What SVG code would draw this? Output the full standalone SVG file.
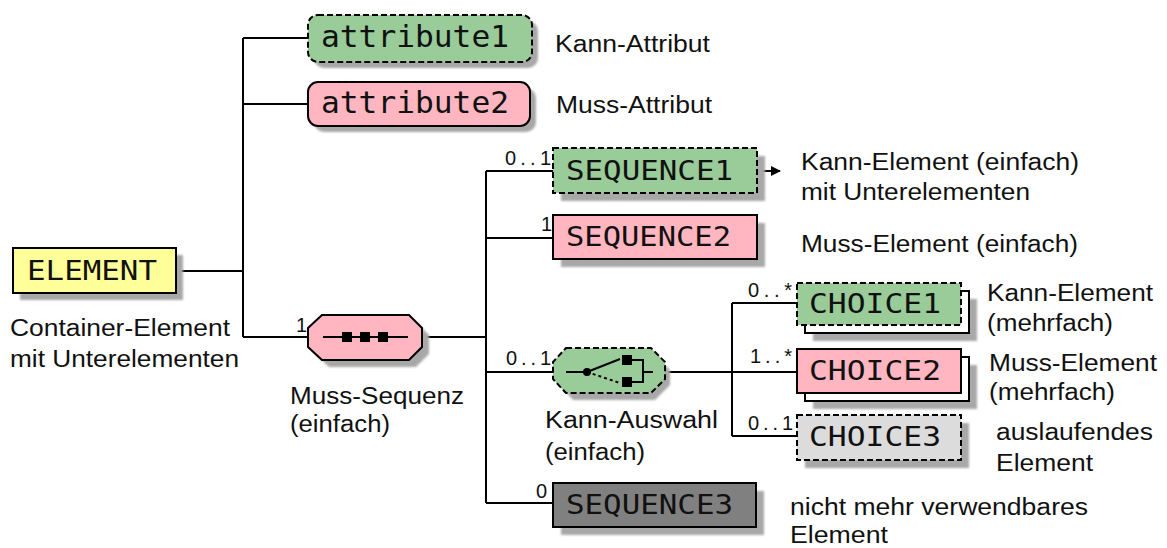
<svg xmlns="http://www.w3.org/2000/svg" width="1167" height="548" viewBox="0 0 1167 548">
<defs>
<style>
.bg{fill:#ffffff}
.ln{stroke:#000;stroke-width:2;fill:none}
.box{stroke:#000;stroke-width:2}
.dash{stroke-dasharray:6,3}
.opt{fill:#99cc99}
.req{fill:#ffb6c1}
.ele{fill:#ffff99}
.dep{fill:#dcdcdc}
.gone{fill:#808080}
.white{fill:#ffffff}
.sh{fill:#a8a8a8;filter:url(#blur)}
.nt{font-family:"DejaVu Sans Mono","Liberation Mono",monospace;font-size:27px;fill:#111}
.at{font-family:"DejaVu Sans Mono","Liberation Mono",monospace;font-size:30px;fill:#111}
.card{font-family:"Liberation Sans",Arial,sans-serif;font-size:20px;fill:#111}
.lbl{font-family:"Liberation Sans",Arial,sans-serif;font-size:23px;fill:#111}
</style>
<filter id="blur" x="-10%" y="-10%" width="120%" height="120%"><feGaussianBlur stdDeviation="1"/></filter>
<marker id="arr" markerWidth="10" markerHeight="10" refX="9" refY="5" orient="auto" markerUnits="userSpaceOnUse"><path d="M0,0 L10,5 L0,10 Z" fill="#000"/></marker>
</defs>
<rect class="bg" x="0" y="0" width="1167" height="548"/>

<g id="connectors">
<path class="ln" d="M176,271 H243"/>
<path class="ln" d="M243,38 V337"/>
<path class="ln" d="M243,38 H308"/>
<path class="ln" d="M243,104 H308"/>
<path class="ln" d="M243,337 H308"/>
<path class="ln" d="M422,337 H486"/>
<path class="ln" d="M486,171 V503"/>
<path class="ln" d="M486,171 H553"/>
<path class="ln" d="M486,238 H553"/>
<path class="ln" d="M486,372 H553"/>
<path class="ln" d="M486,503 H553"/>
<path class="ln" d="M665,372 H797"/>
<path class="ln" d="M732,303 V436"/>
<path class="ln" d="M732,303 H797"/>
<path class="ln" d="M732,436 H797"/>
<path class="ln" d="M757,171 H780" marker-end="url(#arr)"/>
</g>

<g id="attribute1">
<rect class="sh" x="314" y="21" width="224" height="47" rx="10"/>
<rect class="box dash opt" x="308" y="15" width="224" height="47" rx="10"/>
<text class="at" x="321" y="47" textLength="188" lengthAdjust="spacingAndGlyphs">attribute1</text>
<text class="lbl" x="555" y="52" textLength="155" lengthAdjust="spacingAndGlyphs">Kann-Attribut</text>
</g>

<g id="attribute2">
<rect class="sh" x="314" y="88" width="222" height="44" rx="10"/>
<rect class="box req" x="308" y="82" width="222" height="44" rx="10"/>
<text class="at" x="321" y="113" textLength="188" lengthAdjust="spacingAndGlyphs">attribute2</text>
<text class="lbl" x="556" y="113" textLength="156" lengthAdjust="spacingAndGlyphs">Muss-Attribut</text>
</g>

<g id="element">
<rect class="sh" x="20" y="255" width="163" height="45"/>
<rect class="box ele" x="13" y="248" width="163" height="45"/>
<text class="nt" x="27" y="280" textLength="130" lengthAdjust="spacingAndGlyphs">ELEMENT</text>
<text class="lbl" x="10" y="336" textLength="220" lengthAdjust="spacingAndGlyphs">Container-Element</text>
<text class="lbl" x="10" y="367" textLength="229" lengthAdjust="spacingAndGlyphs">mit Unterelementen</text>
</g>

<g id="sequence">
<path class="sh" d="M329,322 H416 L429,335 V354 L416,367 H329 L315,354 V335 Z"/>
<path class="box req" d="M322,315 H409 L422,328 V347 L409,360 H322 L308,347 V328 Z"/>
<path class="ln" d="M323,337 H408"/>
<rect x="342" y="332" width="10" height="10" fill="#000"/>
<rect x="360" y="332" width="10" height="10" fill="#000"/>
<rect x="378" y="332" width="10" height="10" fill="#000"/>
<text class="card" x="296" y="332">1</text>
<text class="lbl" x="290" y="404" textLength="174" lengthAdjust="spacingAndGlyphs">Muss-Sequenz</text>
<text class="lbl" x="290" y="432" textLength="100" lengthAdjust="spacingAndGlyphs">(einfach)</text>
</g>

<g id="sequence1">
<rect class="sh" x="561" y="156" width="204" height="45"/>
<rect class="box dash opt" x="553" y="148" width="204" height="45"/>
<text class="nt" x="566" y="180" textLength="167" lengthAdjust="spacingAndGlyphs">SEQUENCE1</text>
<text class="card" x="505" y="165" textLength="46" lengthAdjust="spacing">0..1</text>
<text class="lbl" x="801" y="170" textLength="278" lengthAdjust="spacingAndGlyphs">Kann-Element (einfach)</text>
<text class="lbl" x="801" y="200" textLength="229" lengthAdjust="spacingAndGlyphs">mit Unterelementen</text>
</g>

<g id="sequence2">
<rect class="sh" x="561" y="223" width="204" height="44"/>
<rect class="box req" x="553" y="215" width="204" height="44"/>
<text class="nt" x="566" y="246" textLength="165" lengthAdjust="spacingAndGlyphs">SEQUENCE2</text>
<text class="card" x="541" y="231">1</text>
<text class="lbl" x="801" y="252" textLength="277" lengthAdjust="spacingAndGlyphs">Muss-Element (einfach)</text>
</g>

<g id="choice">
<path class="sh" d="M573,355 H655 L670,370 V385 L655,400 H573 L560,385 V370 Z"/>
<path class="box dash opt" stroke-linejoin="round" d="M566,348 H651 L665,362 V379 L651,393 H566 L553,379 V362 Z"/>
<path class="ln" d="M566,372 H586"/>
<circle cx="587" cy="372" r="4" fill="#000"/>
<path class="ln" d="M587,372 L620,359"/>
<path class="ln" d="M587,372 L620,383" stroke-dasharray="3,3"/>
<rect x="622" y="355" width="10" height="10" fill="#000"/>
<rect x="622" y="377" width="10" height="10" fill="#000"/>
<path class="ln" d="M632,360 H643 V382 H632 M643,372 H653"/>
<text class="card" x="506" y="365" textLength="45" lengthAdjust="spacing">0..1</text>
<text class="lbl" x="545" y="428" textLength="173" lengthAdjust="spacingAndGlyphs">Kann-Auswahl</text>
<text class="lbl" x="545" y="460" textLength="100" lengthAdjust="spacingAndGlyphs">(einfach)</text>
</g>

<g id="choice1">
<rect class="sh" x="813" y="299" width="164" height="42"/>
<rect class="box white" x="805" y="291" width="164" height="42"/>
<rect class="box dash opt" x="797" y="283" width="164" height="42"/>
<text class="nt" x="809" y="313" textLength="132" lengthAdjust="spacingAndGlyphs">CHOICE1</text>
<text class="card" x="748" y="297" textLength="44" lengthAdjust="spacing">0..*</text>
<text class="lbl" x="987" y="301" textLength="166" lengthAdjust="spacingAndGlyphs">Kann-Element</text>
<text class="lbl" x="987" y="331" textLength="126" lengthAdjust="spacingAndGlyphs">(mehrfach)</text>
</g>

<g id="choice2">
<rect class="sh" x="813" y="365" width="164" height="44"/>
<rect class="box white" x="805" y="357" width="164" height="44"/>
<rect class="box req" x="797" y="349" width="164" height="44"/>
<text class="nt" x="809" y="380" textLength="132" lengthAdjust="spacingAndGlyphs">CHOICE2</text>
<text class="card" x="750" y="363" textLength="42" lengthAdjust="spacing">1..*</text>
<text class="lbl" x="989" y="371" textLength="168" lengthAdjust="spacingAndGlyphs">Muss-Element</text>
<text class="lbl" x="989" y="400" textLength="126" lengthAdjust="spacingAndGlyphs">(mehrfach)</text>
</g>

<g id="choice3">
<rect class="sh" x="805" y="423" width="164" height="45"/>
<rect class="box dash dep" x="797" y="415" width="164" height="45"/>
<text class="nt" x="809" y="446" textLength="132" lengthAdjust="spacingAndGlyphs">CHOICE3</text>
<text class="card" x="748" y="430" textLength="45" lengthAdjust="spacing">0..1</text>
<text class="lbl" x="996" y="440" textLength="157" lengthAdjust="spacingAndGlyphs">auslaufendes</text>
<text class="lbl" x="996" y="471" textLength="97" lengthAdjust="spacingAndGlyphs">Element</text>
</g>

<g id="sequence3">
<rect class="sh" x="561" y="491" width="203" height="44"/>
<rect class="box gone" x="553" y="483" width="203" height="44"/>
<text class="nt" x="566" y="514" textLength="167" lengthAdjust="spacingAndGlyphs">SEQUENCE3</text>
<text class="card" x="536" y="498">0</text>
<text class="lbl" x="790" y="515" textLength="298" lengthAdjust="spacingAndGlyphs">nicht mehr verwendbares</text>
<text class="lbl" x="790" y="543" textLength="98" lengthAdjust="spacingAndGlyphs">Element</text>
</g>
</svg>
